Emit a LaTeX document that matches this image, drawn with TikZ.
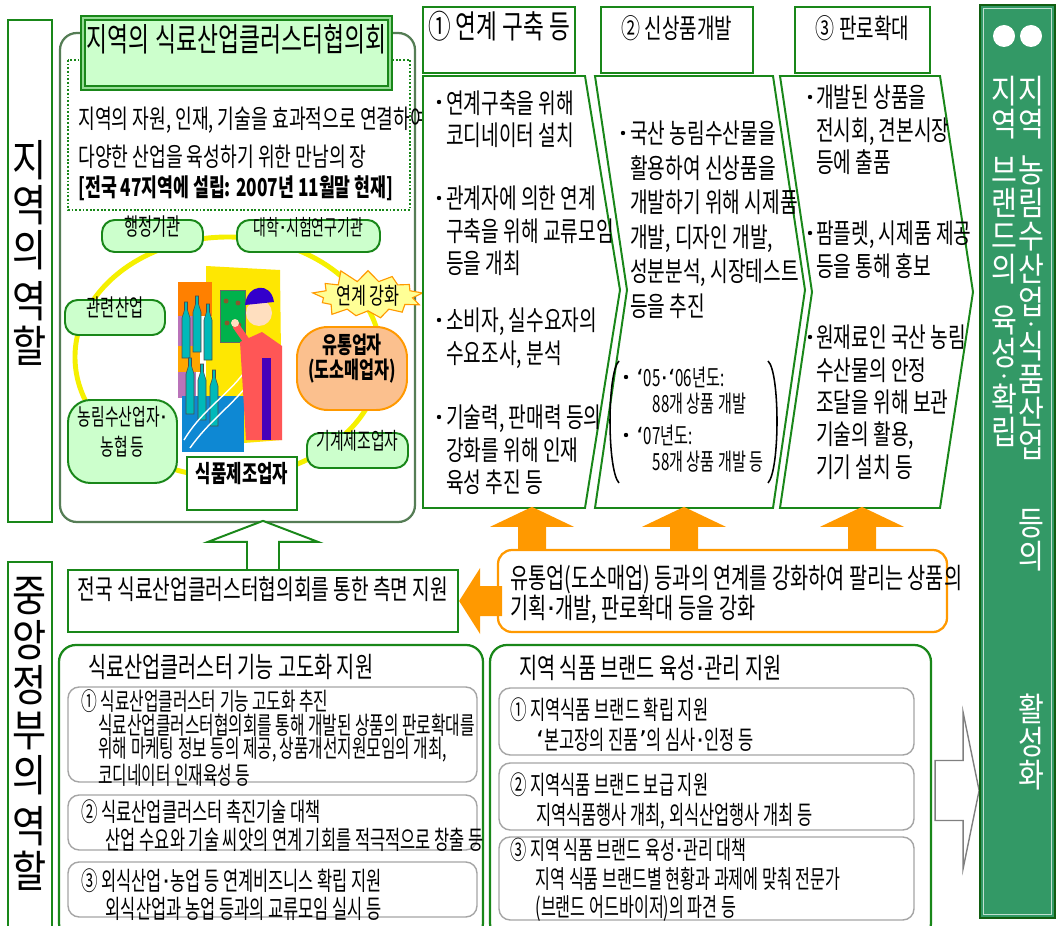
\documentclass[tikz,border=0pt]{standalone}
\usepackage{fontspec}
\setmainfont{Noto Sans CJK KR}[FakeStretch=0.7]
\newfontfamily\narrowfont{Noto Sans CJK KR}[FakeStretch=0.64]
\newfontfamily\wideface{Noto Sans CJK KR}[FakeStretch=0.85]
\newfontfamily\dotfont{DejaVu Sans}
\usetikzlibrary{fit,calc,shapes.symbols}

\definecolor{grn}{RGB}{25,135,25}
\definecolor{dkgrn}{RGB}{85,125,85}
\definecolor{paleGreen}{RGB}{204,255,204}
\definecolor{ringYellow}{RGB}{245,240,0}
\definecolor{orng}{RGB}{255,153,0}
\definecolor{shopFill}{RGB}{251,192,142}
\definecolor{burstFill}{RGB}{255,255,150}
\definecolor{bannerGreen}{RGB}{51,153,102}
\definecolor{subline}{RGB}{165,165,165}

\newcommand{\txtsize}[2]{\fontsize{#1}{#2}\selectfont}
% narrow middle dot and quotes
\newcommand{\mdot}{{\dotfont ·}}
\newcommand{\openq}{{\dotfont ‘}}
\newcommand{\closeq}{{\dotfont ’}}

\begin{document}
\begin{tikzpicture}[x=0.025cm, y=-0.025cm,
  box/.style={draw=grn, line width=1.6pt, fill=white, inner sep=0pt},
  org/.style={draw=grn, line width=1.4pt, fill=paleGreen, rounded corners=9pt,
    inner sep=0pt, align=center, font=\narrowfont\txtsize{17}{19}},
  colhead/.style={box, font=\txtsize{19.3}{22}},
  chev/.style={draw=grn, line width=1.4pt, fill=white},
  coltext/.style={anchor=north west, inner sep=0pt, align=left, font=\txtsize{19.5}{23}},
  subbox/.style={draw=subline, line width=1pt, fill=white, rounded corners=8pt, inner sep=0pt},
  subtext/.style={anchor=north west, inner sep=0pt, align=left, font=\narrowfont\txtsize{18.3}{20.5}},
  rolelbl/.style={align=center, font=\wideface\txtsize{31}{32}},
  vtext/.style={anchor=north, inner sep=0pt, align=center, text=white, font=\wideface\txtsize{23.5}{23.5}},
  uparrow/.pic={\fill[orng] (-14,0) -- (-14,-22) -- (-42,-22) -- (0,-42) -- (42,-22) -- (14,-22) -- (14,0) -- cycle;},
  bottle/.pic={\fill[teal!55!cyan, draw=black!70, line width=0.4pt] (-4,0) -- (-4,40) -- (4,40) -- (4,0)
    -- (1.5,-8) -- (1.5,-16) -- (-1.5,-16) -- (-1.5,-8) -- cycle;},
]

\fill[white] (0,0) rectangle (1059,926);
\useasboundingbox (0,0) rectangle (1059,926);

% ---- Role labels ----
\node[box, rolelbl, fit={(8,20) (52,522)}] (regionRole) {지\\역\\의\\[4pt]역\\할};
\node[box, rolelbl, fit={(8,562) (52,940)}] (govRole) {중\\앙\\정\\부\\의\\[4pt]역\\할};

% ---- Regional council ----
\node[draw=dkgrn, line width=1.6pt, rounded corners=12pt, inner sep=0pt, fit={(60,33) (415,522)}] (council) {};
\draw[grn, line width=1.2pt, dash pattern=on 1.3pt off 1.3pt] (68,60) rectangle (410,210);
\node[draw=grn, line width=0.9pt, double=paleGreen!70!grn, double distance=2pt, fill=paleGreen,
  inner sep=0pt, font=\txtsize{23.2}{26}, fit={(83,18) (390,88)}] (councilTitle) {지역의 식료산업클러스터협의회};
\node[anchor=north west, inner sep=0pt, align=left, font=\txtsize{18.5}{27}] (councilDesc) at (78,107)
  {지역의 자원, 인재, 기술을 효과적으로 연결하여\\다양한 산업을 육성하기 위한 만남의 장};
\node[anchor=west, inner sep=0pt, font=\bfseries\txtsize{17.5}{20}] (councilNote) at (78,188)
  {[전국 47지역에 설립: 2007년 11월말 현재]};

% ring of partners
\draw[ringYellow, line width=3.5pt] (228,357) ellipse [x radius=153, y radius=120];

% ---- Clip art: worker at the bottling line ----
\fill[yellow!90!orange] (206,266) -- (280,270) -- (282,440) -- (206,446) -- cycle;
\fill[orange] (178,282) rectangle (212,316);
\fill[violet!55] (178,316) rectangle (196,398);
\fill[orange!70!yellow] (178,346) rectangle (200,372);
\fill[cyan!70!blue] (182,396) rectangle (244,452);
\fill[teal!60!green, draw=black!60, line width=0.4pt] (220,290) rectangle (245,342);
\fill[brown!70!black] (226,301) circle (2.5) (238,303) circle (2.5) (227,323) circle (2.5) (239,325) circle (2.5);
\pic at (186,318) {bottle};
\pic at (197,312) {bottle};
\pic at (208,320) {bottle};
\pic at (190,374) {bottle};
\pic at (202,380) {bottle};
\pic at (214,386) {bottle};
\draw[white, line width=1pt] (184,440) .. controls (205,405) and (235,392) .. (252,360);
\draw[white, line width=1pt] (190,448) .. controls (214,414) and (242,400) .. (258,368);
\fill[red!55!pink] (240,342) -- (262,332) -- (282,346) -- (282,440) -- (246,440) -- cycle;
\fill[blue!45!violet] (262,358) rectangle (271,440);
\draw[red!55!pink, line width=5pt, line cap=round] (250,346) -- (236,326);
\fill[orange!25!white] (235,323) circle (4);
\fill[orange!25!white] (259,313) circle (13);
\fill[blue!60!violet] (245,305) .. controls (247,284) and (271,281) .. (274,302) -- cycle;

% partners on the ring
\node[org, fit={(102,220) (203,252)}] (admin) {행정기관};
\node[org, font=\narrowfont\txtsize{15.5}{18}, fit={(237,220) (380,252)}] (univ) {대학\mdot 시험연구기관};
\node[org, fit={(65,300) (165,335)}] (related) {관련산업};
\node[org, rounded corners=16pt, font=\narrowfont\txtsize{16.5}{21}, fit={(68,400) (177,483)}] (farmers) {농림수산업자\mdot\\농협 등};
\node[org, font=\narrowfont\txtsize{16.5}{19}, fit={(307,433) (408,468)}] (machinery) {기계제조업자};
\node[box, line width=1.4pt, font=\bfseries\txtsize{17}{19}, fit={(187,457) (297,510)}] (foodMaker) {식품제조업자};
\node[starburst, starburst points=13, starburst point height=10pt, random starburst=11,
  draw=orng, fill=burstFill, line width=0.8pt, inner sep=0pt, font=\txtsize{16.5}{18}] (boost) at (368,296) {연계 강화};
\node[draw=orng, line width=1.4pt, fill=shopFill, rounded corners=22pt, inner sep=0pt, align=center,
  font=\bfseries\txtsize{16.5}{17.5}, fit={(297,327) (407,410)}] (retail) {유통업자\\(도소매업자)};

% ---- Three steps ----
\node[colhead, font=\txtsize{23}{25}, fit={(423,7) (575,73)}] (head1) {① 연계 구축 등};
\node[colhead, fit={(601,7) (753,73)}] (head2) {② 신상품개발};
\node[colhead, fit={(795,7) (930,73)}] (head3) {③ 판로확대};

\draw[chev] (423,76) -- (585,76) -- (620,290) -- (585,508) -- (423,508) -- cycle;
\draw[chev] (595,76) -- (773,76) -- (805,290) -- (773,508) -- (595,508) -- (627,290) -- cycle;
\draw[chev] (780,76) -- (940,76) -- (973,292) -- (940,508) -- (780,508) -- (812,292) -- cycle;

\node[coltext] (netA) at (446,90) {연계구축을 위해\\코디네이터 설치};
\node[coltext] (netB) at (446,186) {관계자에 의한 연계\\구축을 위해 교류모임\\등을 개최};
\node[coltext] (netC) at (446,308) {소비자, 실수요자의\\수요조사, 분석};
\node[coltext] (netD) at (446,405) {기술력, 판매력 등의\\강화를 위해 인재\\육성 추진 등};

\node[coltext, font=\txtsize{19.5}{24.5}] (devA) at (630,121)
  {국산 농림수산물을\\활용하여 신상품을\\개발하기 위해 시제품\\개발, 디자인 개발,\\성분분석, 시장테스트\\등을 추진};
\node[coltext, font=\narrowfont\txtsize{16.8}{18}] (devB) at (636,367) {\openq 05\mdot\openq 06년도:\\\hspace*{0.7em}88개 상품 개발};
\node[coltext, font=\narrowfont\txtsize{16.8}{18}] (devC) at (636,425) {\openq 07년도:\\\hspace*{0.7em}58개 상품 개발 등};
\draw[line width=1.1pt] (619,361) .. controls (607,372) and (607,470) .. (619,483);
\draw[line width=1.1pt] (768,361) .. controls (780,372) and (780,470) .. (768,483);

\node[coltext] (mktA) at (816,85) {개발된 상품을\\전시회, 견본시장\\등에 출품};
\node[coltext] (mktB) at (816,221) {팜플렛, 시제품 제공\\등을 통해 홍보};
\node[coltext] (mktC) at (816,325) {원재료인 국산 농림\\수산물의 안정\\조달을 위해 보관\\기술의 활용,\\기기 설치 등};

% bullets
\fill (netA.north west) ++(-7,12) circle (2.2);
\fill (netB.north west) ++(-7,12) circle (2.2);
\fill (netC.north west) ++(-7,12) circle (2.2);
\fill (netD.north west) ++(-7,12) circle (2.2);
\fill (devA.north west) ++(-7,12) circle (2.2);
\fill (devB.north west) ++(-10,10) circle (2.2);
\fill (devC.north west) ++(-10,10) circle (2.2);
\fill (mktA.north west) ++(-6,12) circle (2.2);
\fill (mktB.north west) ++(-6,12) circle (2.2);
\fill (mktC.north west) ++(-6,12) circle (2.2);

% ---- Retail link ----
\coordinate (upA) at (532,0);
\coordinate (upB) at (684,0);
\coordinate (upC) at (862,0);
\node[draw=orng, line width=1.6pt, fill=white, rounded corners=10pt, inner sep=0pt,
  fit={(498,550) (947,632)}] (retailLink) {};
\pic at (upA |- retailLink.north) {uparrow};
\pic at (upB |- retailLink.north) {uparrow};
\pic at (upC |- retailLink.north) {uparrow};
\node[coltext, font=\txtsize{20}{21.3}] (retailLinkTxt) at (510,565)
  {유통업(도소매업) 등과의 연계를 강화하여 팔리는 상품의\\기획\mdot 개발, 판로확대 등을 강화};

% ---- National support ----
\node[box, font=\txtsize{19.5}{21}, fit={(68,570) (458,632)}] (nat) {전국 식료산업클러스터협의회를 통한 측면 지원};
\fill[orng] (nat.east) -- ++(21,-33) -- ++(0,18) -- ++(22,0) -- ++(0,30) -- ++(-22,0) -- ++(0,18) -- cycle;
\draw[grn, line width=1.4pt, fill=white] (nat.north) ++(-16,0) -- ++(0,-27) -- ++(-39,0) -- ++(55,-21)
  -- ++(55,21) -- ++(-39,0) -- ++(0,27);

% ---- Government measures ----
\node[box, rounded corners=12pt, fit={(59,645) (483,940)}] (supCluster) {};
\node[anchor=west, inner sep=0pt, font=\txtsize{20}{22}] (supClusterTitle) at (88,667) {식료산업클러스터 기능 고도화 지원};
\node[subbox, fit={(68,687) (477,782)}] (cl1) {};
\node[subbox, fit={(68,795) (477,850)}] (cl2) {};
\node[subbox, fit={(68,862) (477,917)}] (cl3) {};
\node[subtext, font=\narrowfont\txtsize{17.5}{17}] (cl1txt) at (81,689)
  {① 식료산업클러스터 기능 고도화 추진\\\hspace*{0.7em}식료산업클러스터협의회를 통해 개발된 상품의 판로확대를\\\hspace*{0.7em}위해 마케팅 정보 등의 제공, 상품개선지원모임의 개최,\\\hspace*{0.7em}코디네이터 인재육성 등};
\node[subtext] (cl2txt) at (81,799)
  {② 식료산업클러스터 촉진기술 대책\\\hspace*{0.95em}산업 수요와 기술 씨앗의 연계 기회를 적극적으로 창출 등};
\node[subtext] (cl3txt) at (81,868)
  {③ 외식산업\mdot 농업 등 연계비즈니스 확립 지원\\\hspace*{0.95em}외식산업과 농업 등과의 교류모임 실시 등};

\node[box, rounded corners=12pt, fit={(490,645) (931,940)}] (supBrand) {};
\node[anchor=west, inner sep=0pt, font=\txtsize{20}{22}] (supBrandTitle) at (519,668) {지역 식품 브랜드 육성\mdot 관리 지원};
\node[subbox, fit={(499,688) (914,755)}] (br1) {};
\node[subbox, fit={(499,763) (914,830)}] (br2) {};
\node[subbox, fit={(499,837) (914,920)}] (br3) {};
\node[subtext, font=\narrowfont\txtsize{18.3}{21.3}] (br1txt) at (510,697)
  {① 지역식품 브랜드 확립 지원\\\hspace*{1em}\openq 본고장의 진품\closeq 의 심사\mdot 인정 등};
\node[subtext, font=\narrowfont\txtsize{18.3}{21.3}] (br2txt) at (510,772)
  {② 지역식품 브랜드 보급 지원\\\hspace*{1em}지역식품행사 개최, 외식산업행사 개최 등};
\node[subtext, font=\narrowfont\txtsize{18}{20.3}] (br3txt) at (510,838)
  {③ 지역 식품 브랜드 육성\mdot 관리 대책\\\hspace*{1em}지역 식품 브랜드별 현황과 과제에 맞춰 전문가\\\hspace*{1em}(브랜드 어드바이저)의 파견 등};

\draw[gray, line width=1pt, fill=white] (supBrand.east) ++(3,-32) -- ++(28,0) -- ++(0,-48) -- ++(16,78)
  -- ++(-16,78) -- ++(0,-48) -- ++(-28,0) -- cycle;

% ---- Outcome banner ----
\node[fill=bannerGreen, draw=grn!70!black, line width=1pt, inner sep=0pt, fit={(980,5) (1055,918)}] (banner) {};
\draw[white!70!bannerGreen, line width=0.8pt] ($(banner.north west)+(4,4)$) rectangle ($(banner.south east)+(-4,-4)$);
\fill[white] (1004,36) circle (11);
\fill[white] (1031,36) circle (11);

\node[vtext] (bnL1) at (1004,76) {지\\역};
\node[vtext] (bnL2) at (1004,157) {브\\랜\\드\\의};
\node[vtext] (bnL3) at (1004,306) {육\\성};
\fill[white] (1004,376) circle (1.8);
\node[vtext] (bnL4) at (1004,384) {확\\립};

\node[vtext] (bnR1) at (1031,76) {지\\역};
\node[vtext] (bnR2) at (1031,155) {농\\림\\수\\산\\업};
\fill[white] (1031,324) circle (1.8);
\node[vtext] (bnR3) at (1031,331) {식\\품\\산\\업};
\node[vtext] (bnR4) at (1031,509) {등\\의};
\node[vtext] (bnR5) at (1031,694) {활\\성\\화};

\end{tikzpicture}
\end{document}
